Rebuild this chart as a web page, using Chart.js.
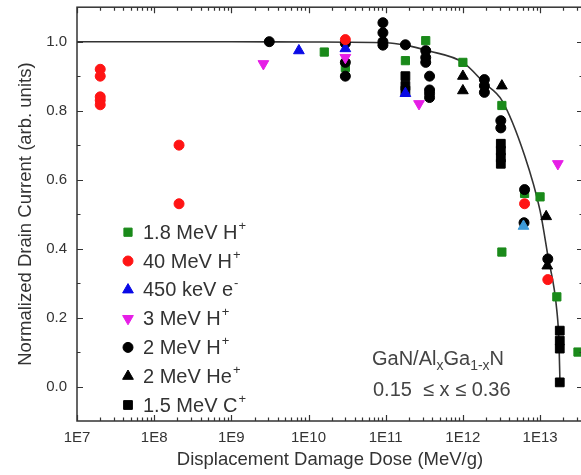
<!DOCTYPE html>
<html>
<head>
<meta charset="utf-8">
<script src="https://cdn.jsdelivr.net/npm/chart.js@4.4.0/dist/chart.umd.min.js"></script>
<style>
  html, body { margin: 0; padding: 0; background: #fff; overflow: hidden; }
  #wrap { position: relative; width: 600px; height: 475px; }
</style>
</head>
<body>
<div id="wrap"><canvas id="chart" width="600" height="475"></canvas></div>
<script>
// axis ticks
const xTicks = [1e7, 1e8, 1e9, 1e10, 1e11, 1e12, 1e13];
const xTickLabels = ['1E7', '1E8', '1E9', '1E10', '1E11', '1E12', '1E13'];
const yTicks = [0, 0.2, 0.4, 0.6, 0.8, 1.0];
const yTickLabels = ['0.0', '0.2', '0.4', '0.6', '0.8', '1.0'];
const yMinorTicks = [0.1, 0.3, 0.5, 0.7, 0.9];

// legend names (superscript kept apart)
const seriesNames = ['1.8 MeV H', '40 MeV H', '450 keV e', '3 MeV H', '2 MeV H', '2 MeV He', '1.5 MeV C'];
const seriesSup = ['+', '+', '-', '+', '+', '+', '+'];

// 1.8 MeV H+
const h18Dose  = [1.6e10, 3e10, 1.8e11, 3.3e11, 1e12, 3.2e12, 3.2e12, 6.3e12, 1e13, 1.65e13, 3.1e13];
const h18Value = [0.97, 0.925, 0.945, 1.003, 0.94, 0.815, 0.39, 0.56, 0.55, 0.26, 0.10];
// 40 MeV H+
const h40Dose  = [2e7, 2e7, 2e7, 2e7, 2e7, 2.1e8, 2.1e8, 3e10, 6.3e12, 1.26e13];
const h40Value = [0.92, 0.90, 0.84, 0.83, 0.817, 0.70, 0.53, 1.006, 0.53, 0.31];
// 450 keV e-
const e450Dose  = [7.5e9, 3e10, 1.8e11, 6.1e12];
const e450Value = [0.974, 0.98, 0.85, 0.465];
// 3 MeV H+
const h3Dose  = [2.6e9, 3e10, 2.7e11, 1.7e13];
const h3Value = [0.936, 0.954, 0.82, 0.646];
// 2 MeV H+
const h2Dose  = [3.1e9, 3e10, 3e10, 3e10, 9.2e10, 9.2e10, 9.2e10, 9.2e10, 1.8e11, 3.3e11, 3.3e11, 3.3e11,
                 3.7e11, 3.7e11, 3.7e11, 3.7e11, 1.9e12, 1.9e12, 1.9e12, 3.1e12, 3.1e12, 6.3e12, 6.2e12, 1.26e13];
const h2Value = [1.0, 0.995, 0.94, 0.90, 1.055, 1.026, 1.0, 0.99, 0.991, 0.974, 0.954, 0.94,
                 0.90, 0.86, 0.85, 0.838, 0.89, 0.872, 0.853, 0.771, 0.75, 0.571, 0.475, 0.37];
// 2 MeV He+
const he2Dose  = [1e12, 1e12, 3.2e12, 1.2e13, 1.24e13];
const he2Value = [0.90, 0.858, 0.872, 0.493, 0.35];
// 1.5 MeV C+
const c15Dose  = [1.8e11, 1.8e11, 1.8e11, 3.1e12, 3.1e12, 3.1e12, 3.1e12, 1.8e13, 1.8e13, 1.8e13, 1.8e13];
const c15Value = [0.90, 0.872, 0.858, 0.704, 0.684, 0.664, 0.646, 0.162, 0.133, 0.11, 0.012];
// fit curve
const fitDose  = [1e7, 1e9, 1e10, 1e11, 1.8e11, 3.5e11, 1e12, 1.9e12, 3.2e12, 6.3e12, 1e13, 1.26e13, 1.65e13, 1.76e13, 1.81e13];
const fitValue = [1.0, 1.0, 0.999, 0.997, 0.99, 0.974, 0.94, 0.88, 0.83, 0.67, 0.51, 0.38, 0.22, 0.125, 0.012];

const FONT = "'Liberation Sans', Arial, sans-serif";
const TEXT = '#333';

const pts = (xs, ys) => xs.map((v, i) => ({ x: v, y: ys[i] }));

const mk = (i, dose, val, color, style, radius, rotation, order) => ({
  label: seriesNames[i] + seriesSup[i],
  data: pts(dose, val),
  pointStyle: style,
  pointRadius: radius,
  pointHoverRadius: radius,
  pointRotation: rotation,
  backgroundColor: color,
  borderColor: color,
  borderWidth: 1,
  showLine: false,
  order: order
});

const datasets = [
  mk(0, h18Dose, h18Value, '#1a8a1a', 'rect', 5.8, 0, 7),
  mk(1, h40Dose, h40Value, '#ff1414', 'circle', 5, 0, 1),
  mk(2, e450Dose, e450Value, '#0a0ae6', 'triangle', 6.2, 0, 3),
  mk(3, h3Dose, h3Value, '#e61ee6', 'triangle', 6.2, 180, 2),
  mk(4, h2Dose, h2Value, '#000', 'circle', 5, 0, 4),
  mk(5, he2Dose, he2Value, '#000', 'triangle', 6.2, 0, 5),
  mk(6, c15Dose, c15Value, '#000', 'rect', 6.2, 0, 6),
  {
    label: 'fit',
    data: pts(fitDose, fitValue),
    showLine: true,
    borderColor: '#333',
    borderWidth: 1.6,
    pointRadius: 0,
    fill: false,
    cubicInterpolationMode: 'monotone',
    order: 9
  }
];
// the cyan-looking point at 6E12
datasets[2].backgroundColor = ctx => (ctx.raw && ctx.raw.x > 5e12) ? '#3d9ad8' : '#0a0ae6';
datasets[2].borderColor = datasets[2].backgroundColor;

// frame + inward ticks on all sides
const frame = {
  id: 'frame',
  afterDraw(chart) {
    const { ctx, chartArea: a, scales: { x, y } } = chart;
    ctx.save();
    ctx.strokeStyle = '#333';
    ctx.lineWidth = 1.5;
    ctx.strokeRect(a.left, a.top, a.right - a.left, a.bottom - a.top);
    ctx.lineWidth = 1.2;
    ctx.beginPath();
    for (let e = 7; e <= 13; e++) {
      for (let m = 1; m <= 9; m++) {
        const v = m * Math.pow(10, e);
        if (v > x.max) break;
        const px = Math.round(x.getPixelForValue(v)) + 0.5;
        const len = m === 1 ? 6 : 3.5;
        ctx.moveTo(px, a.bottom); ctx.lineTo(px, a.bottom - len);
        ctx.moveTo(px, a.top); ctx.lineTo(px, a.top + len);
      }
    }
    const yt = (v, len) => {
      const py = Math.round(y.getPixelForValue(v)) + 0.5;
      ctx.moveTo(a.left, py); ctx.lineTo(a.left + len, py);
      ctx.moveTo(a.right, py); ctx.lineTo(a.right - len, py);
    };
    yTicks.forEach(v => yt(v, 6));
    yMinorTicks.forEach(v => yt(v, 3.5));
    ctx.stroke();
    ctx.restore();
  }
};

// legend drawn inside the plot
const legendBox = {
  id: 'legendBox',
  afterDatasetsDraw(chart) {
    const { ctx, chartArea: a } = chart;
    const draw = Chart.helpers && Chart.helpers.drawPoint;
    ctx.save();
    seriesNames.forEach((name, i) => {
      const ds = chart.data.datasets[i];
      const cx = a.left + 51;
      const cy = a.top + 225 + i * 28.8;
      const col = typeof ds.backgroundColor === 'function' ? '#0a0ae6' : ds.backgroundColor;
      ctx.fillStyle = col;
      ctx.strokeStyle = col;
      ctx.lineWidth = 1;
      if (draw) {
        draw(ctx, { pointStyle: ds.pointStyle, rotation: ds.pointRotation, radius: ds.pointRadius, borderWidth: 1 }, cx, cy);
      }
      ctx.fillStyle = TEXT;
      ctx.textBaseline = 'middle';
      ctx.textAlign = 'left';
      ctx.font = '20px ' + FONT;
      ctx.fillText(name, cx + 15, cy + 1);
      const w = ctx.measureText(name).width;
      ctx.font = '13px ' + FONT;
      ctx.fillText(seriesSup[i], cx + 15 + w + 1, cy - 6);
    });

    // material note
    const x0 = a.left + 295;
    const b1 = a.top + 358;
    let xx = x0;
    const put = (t, size, dy) => {
      ctx.font = size + 'px ' + FONT;
      ctx.fillText(t, xx, b1 + dy);
      xx += ctx.measureText(t).width;
    };
    ctx.textBaseline = 'alphabetic';
    ctx.fillStyle = '#444';
    put('GaN/Al', 20, 0);
    put('x', 14, 5);
    put('Ga', 20, 0);
    put('1-x', 14, 5);
    put('N', 20, 0);
    ctx.font = '20px ' + FONT;
    ctx.fillText('0.15  \u2264 x \u2264 0.36', x0 + 1, b1 + 31);
    ctx.restore();
  }
};

new Chart(document.getElementById('chart'), {
  type: 'scatter',
  data: { datasets },
  options: {
    responsive: false,
    animation: false,
    devicePixelRatio: 1,
    layout: { padding: { left: 0, right: 17, top: 7, bottom: 0 } },
    plugins: { legend: { display: false }, tooltip: { enabled: false } },
    scales: {
      x: {
        type: 'logarithmic',
        min: 1e7,
        max: 3.6e13,
        grid: { display: false, drawTicks: false },
        border: { display: false },
        afterBuildTicks: s => { s.ticks = xTicks.map(v => ({ value: v })); },
        afterFit: s => { s.height = 54; s.paddingLeft = 0; s.paddingRight = 0; },
        ticks: {
          autoSkip: false,
          maxRotation: 0,
          padding: 8,
          color: TEXT,
          font: { family: FONT, size: 15 },
          callback: (v, i) => xTickLabels[i]
        },
        title: {
          display: true,
          text: 'Displacement Damage Dose (MeV/g)',
          color: TEXT,
          font: { family: FONT, size: 18.5 },
          padding: { top: 0, bottom: 4 }
        }
      },
      y: {
        min: -0.1,
        max: 1.1,
        grid: { display: false, drawTicks: false },
        border: { display: false },
        afterBuildTicks: s => { s.ticks = yTicks.map(v => ({ value: v })); },
        afterFit: s => { s.width = 77; s.paddingTop = 0; s.paddingBottom = 0; },
        ticks: {
          padding: 10,
          color: TEXT,
          font: { family: FONT, size: 15 },
          callback: (v, i) => yTickLabels[i]
        },
        title: {
          display: true,
          text: 'Normalized Drain Current (arb. units)',
          color: TEXT,
          font: { family: FONT, size: 18.5 },
          padding: { top: 15, bottom: 0 }
        }
      }
    }
  },
  plugins: [frame, legendBox]
});
</script>
</body>
</html>
